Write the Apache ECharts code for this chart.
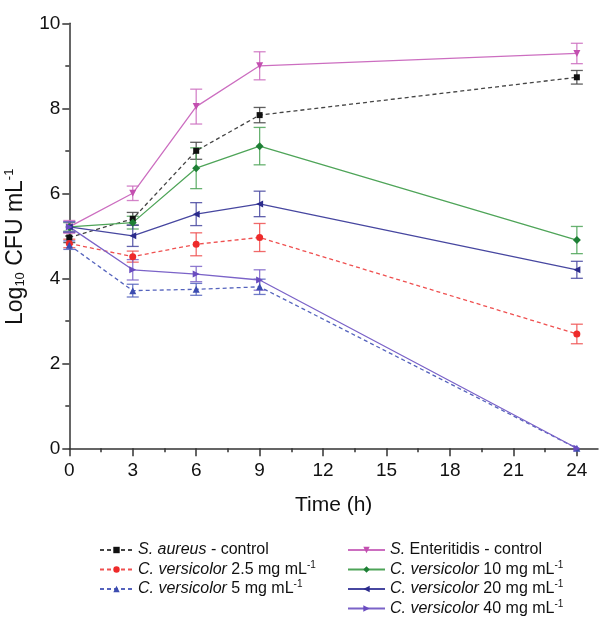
<!DOCTYPE html>
<html>
<head>
<meta charset="utf-8">
<script src="https://cdn.jsdelivr.net/npm/echarts@6/dist/echarts.min.js"></script>
<style>html,body{margin:0;padding:0;background:#fff}#c{width:600px;height:622px}</style>
</head>
<body>
<div id="c"></div>
<script>
var times = [0, 3, 6, 9, 24];
var xTickValues = [0, 3, 6, 9, 12, 15, 18, 21, 24];
var xMinorValues = [1.5, 4.5, 7.5, 10.5, 13.5, 16.5, 19.5, 22.5];

var seriesNames = [
  'S. aureus - control',
  'C. versicolor 2.5 mg mL-1',
  'C. versicolor 5 mg mL-1',
  'S. Enteritidis - control',
  'C. versicolor 10 mg mL-1',
  'C. versicolor 20 mg mL-1',
  'C. versicolor 40 mg mL-1'
];

var aureusControl = [4.96, 5.40, 7.00, 7.84, 8.73];
var aureusControlErr = [0.12, 0.15, 0.20, 0.18, 0.16];

var versicolor2_5 = [4.82, 4.51, 4.80, 4.96, 2.69];
var versicolor2_5Err = [0.10, 0.13, 0.27, 0.33, 0.23];

var versicolor5 = [4.78, 3.71, 3.74, 3.80, 0];
var versicolor5Err = [0.10, 0.15, 0.14, 0.18, 0];

var enteritidisControl = [5.21, 6.00, 8.04, 9.00, 9.29];
var enteritidisControlErr = [0.15, 0.17, 0.41, 0.33, 0.24];

var versicolor10 = [5.21, 5.31, 6.59, 7.11, 4.90];
var versicolor10Err = [0.10, 0.15, 0.48, 0.44, 0.32];

var versicolor20 = [5.21, 5.00, 5.51, 5.75, 4.20];
var versicolor20Err = [0.12, 0.25, 0.27, 0.30, 0.20];

var versicolor40 = [5.21, 4.20, 4.10, 3.96, 0];
var versicolor40Err = [0.12, 0.24, 0.18, 0.24, 0];

var FONT = 'Liberation Sans, Arial, sans-serif';

var defs = [
  {name: seriesNames[0], data: aureusControl, err: aureusControlErr, color: '#111111', line: '#444444', dash: [4, 3], symbol: 'rect', size: 6, rot: 0},
  {name: seriesNames[1], data: versicolor2_5, err: versicolor2_5Err, color: '#ee2a2a', line: '#ef5050', dash: [4, 3], symbol: 'circle', size: 7, rot: 0},
  {name: seriesNames[2], data: versicolor5, err: versicolor5Err, color: '#3c4cb0', line: '#5563bd', dash: [4, 3], symbol: 'triangle', size: 7, rot: 0},
  {name: seriesNames[3], data: enteritidisControl, err: enteritidisControlErr, color: '#c34fb0', line: '#cc6ec0', dash: 'solid', symbol: 'triangle', size: 7, rot: 180},
  {name: seriesNames[4], data: versicolor10, err: versicolor10Err, color: '#1d7f35', line: '#4ea458', dash: 'solid', symbol: 'diamond', size: 8, rot: 0},
  {name: seriesNames[5], data: versicolor20, err: versicolor20Err, color: '#2b2b8c', line: '#4747a0', dash: 'solid', symbol: 'triangle', size: 7, rot: 90},
  {name: seriesNames[6], data: versicolor40, err: versicolor40Err, color: '#6a4cc0', line: '#7b63c8', dash: 'solid', symbol: 'triangle', size: 7, rot: -90}
];

var series = [];
defs.forEach(function (d) {
  var errData = times.map(function (t, i) { return [t, d.data[i], d.err[i]]; });
  series.push({
    type: 'custom',
    name: d.name + ' err',
    xAxisIndex: 0, yAxisIndex: 0,
    data: errData,
    silent: true,
    z: 2,
    renderItem: function (params, api) {
      var x = api.value(0), y = api.value(1), e = api.value(2);
      if (!e) return null;
      var top = api.coord([x, y + e]);
      var bot = api.coord([x, y - e]);
      var hw = 6;
      var st = {stroke: d.line, lineWidth: 1.3, opacity: 0.85};
      return {
        type: 'group',
        children: [
          {type: 'line', shape: {x1: top[0], y1: top[1], x2: bot[0], y2: bot[1]}, style: st},
          {type: 'line', shape: {x1: top[0] - hw, y1: top[1], x2: top[0] + hw, y2: top[1]}, style: st},
          {type: 'line', shape: {x1: bot[0] - hw, y1: bot[1], x2: bot[0] + hw, y2: bot[1]}, style: st}
        ]
      };
    }
  });
  series.push({
    type: 'line',
    name: d.name,
    xAxisIndex: 0, yAxisIndex: 0,
    data: times.map(function (t, i) { return [t, d.data[i]]; }),
    symbol: d.symbol,
    symbolSize: d.size,
    symbolRotate: d.rot,
    showAllSymbol: true,
    z: 3,
    itemStyle: {color: d.color},
    lineStyle: {color: d.line, width: 1.3, type: d.dash},
    emphasis: {disabled: true}
  });
});

function fmtLegend(name) {
  if (name.indexOf('S. aureus') === 0) return '{i|S. aureus} - control';
  if (name.indexOf('S. Enteritidis') === 0) return '{i|S.} Enteritidis - control';
  var m = name.match(/C\. versicolor ([\d.]+) mg mL-1/);
  if (m) return '{i|C. versicolor} ' + m[1] + ' mg mL{sup|-1}';
  return name;
}

var legendText = {
  fontFamily: FONT,
  fontSize: 16,
  color: '#111',
  rich: {
    i: {fontStyle: 'italic', fontSize: 16, fontFamily: FONT, color: '#111'},
    sup: {fontSize: 10, verticalAlign: 'top', padding: [0, 0, 9, 0], fontFamily: FONT, color: '#111'}
  }
};

var option = {
  animation: false,
  backgroundColor: '#ffffff',
  grid: {left: 69.3, top: 23.3, right: 2, bottom: 173.7, containLabel: false, outerBoundsMode: 'none'},
  xAxis: [{
    type: 'value', min: 0, max: 25,
    name: 'Time (h)', nameLocation: 'middle', nameGap: 46,
    nameTextStyle: {fontSize: 21, color: '#111', fontFamily: FONT},
    axisLine: {show: true, onZero: false, lineStyle: {color: '#333', width: 1.5}},
    axisTick: {show: true, inside: false, length: 8, customValues: xTickValues, lineStyle: {color: '#333', width: 1.5}},
    axisLabel: {show: true, customValues: xTickValues, fontSize: 19, color: '#111', margin: 13, fontFamily: FONT},
    splitLine: {show: false}
  }, {
    type: 'value', min: 0, max: 25, position: 'bottom', gridIndex: 0,
    axisLine: {show: false},
    axisTick: {show: true, length: 4, customValues: xMinorValues, lineStyle: {color: '#333', width: 1.5}},
    axisLabel: {show: false},
    splitLine: {show: false}
  }],
  yAxis: [{
    type: 'value', min: 0, max: 10, interval: 2,
    name: 'Log{sub|10} CFU mL{sup|-1}', nameLocation: 'middle', nameGap: 42,
    nameTextStyle: {
      fontSize: 23, color: '#111', fontFamily: FONT,
      padding: [0, 22, 0, 0],
      rich: {
        sub: {fontSize: 13, verticalAlign: 'bottom', padding: [8, 0, 0, 0], color: '#111', fontFamily: FONT},
        sup: {fontSize: 13, verticalAlign: 'top', padding: [0, 0, 11, 0], color: '#111', fontFamily: FONT}
      }
    },
    axisLine: {show: true, onZero: false, lineStyle: {color: '#333', width: 1.5}},
    axisTick: {show: true, inside: false, length: 7, lineStyle: {color: '#333', width: 1.5}},
    minorTick: {show: true, splitNumber: 2, length: 4, lineStyle: {color: '#333', width: 1.5}},
    axisLabel: {fontSize: 19, color: '#111', margin: 9, fontFamily: FONT},
    splitLine: {show: false},
    minorSplitLine: {show: false}
  }],
  legend: [{
    orient: 'vertical', left: 99, top: 542, itemGap: 2, padding: 0, height: 120,
    itemWidth: 33, itemHeight: 8,
    data: [seriesNames[0], seriesNames[1], seriesNames[2]],
    formatter: fmtLegend,
    textStyle: legendText,
    selectedMode: false
  }, {
    orient: 'vertical', left: 347, top: 542, itemGap: 2, padding: 0, height: 120,
    itemWidth: 37, itemHeight: 8,
    data: [seriesNames[3], seriesNames[4], seriesNames[5], seriesNames[6]],
    formatter: fmtLegend,
    textStyle: legendText,
    selectedMode: false
  }],
  series: series
};

var chart = echarts.init(document.getElementById('c'), null, {renderer: 'canvas'});
chart.setOption(option);
</script>
</body>
</html>
